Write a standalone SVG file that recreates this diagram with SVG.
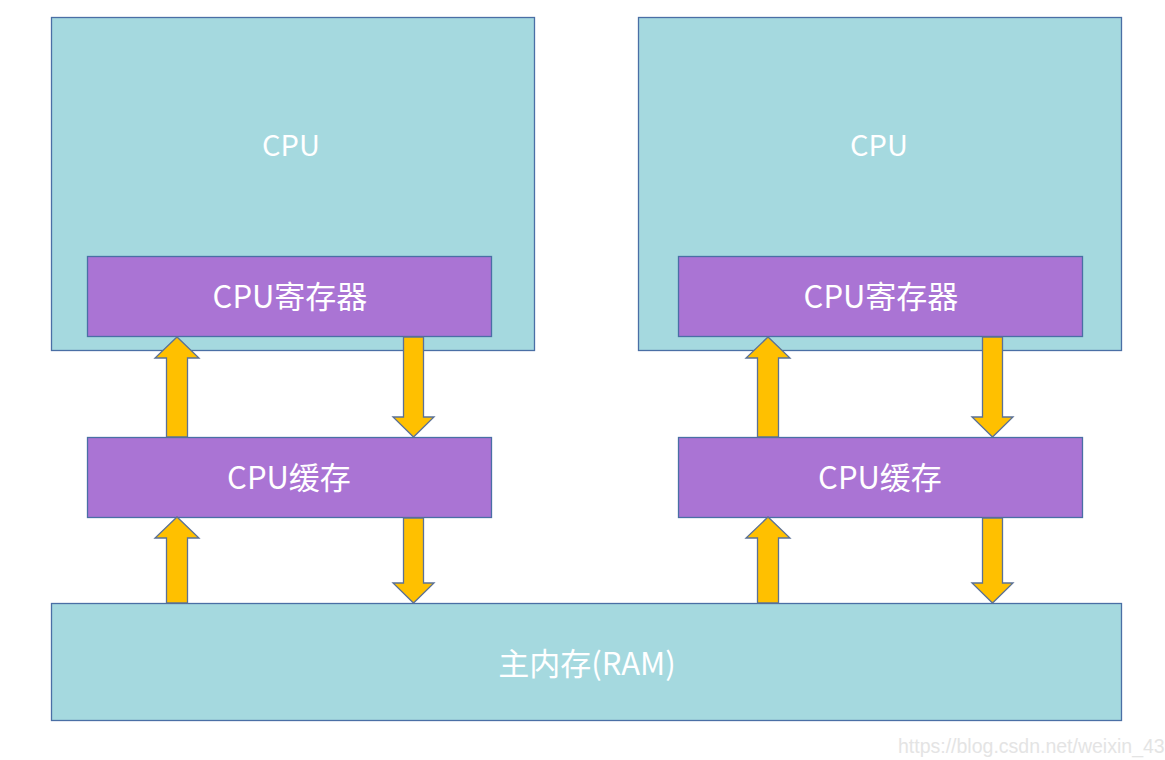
<svg xmlns="http://www.w3.org/2000/svg" width="1165" height="760" viewBox="0 0 1165 760">
<style>
.box{fill:#A5D9DF;stroke:#4A6FA5;stroke-width:1.3}
.reg{fill:#AA74D4;stroke:#4A6FA5;stroke-width:1.3}
.lbl{fill:#FFFFFF;font-family:"Noto Sans CJK SC","Noto Sans",sans-serif;font-size:31px;text-anchor:middle}
.cpu{font-size:29px}
.arr{fill:#FFC000;stroke:#5B7196;stroke-width:1.3;stroke-linejoin:miter}
.wm{fill:#E4E4E4;font-family:"Liberation Sans",Arial,sans-serif;font-size:19.5px}
</style>
<rect width="1165" height="760" fill="#FFFFFF"/>
<g id="cpu-left"><rect class="box" x="51.5" y="17.5" width="483" height="333"/><text class="lbl cpu" x="291" y="156">CPU</text></g>
<g id="cpu-right"><rect class="box" x="638.5" y="17.5" width="483" height="333"/><text class="lbl cpu" x="879" y="156">CPU</text></g>
<g id="reg-left"><rect class="reg" x="87.5" y="256.5" width="404" height="80"/><text class="lbl" x="290" y="308">CPU寄存器</text></g>
<g id="reg-right"><rect class="reg" x="678.5" y="256.5" width="404" height="80"/><text class="lbl" x="881" y="308">CPU寄存器</text></g>
<g id="cache-left"><rect class="reg" x="87.5" y="437.5" width="404" height="80"/><text class="lbl" x="289" y="489">CPU缓存</text></g>
<g id="cache-right"><rect class="reg" x="678.5" y="437.5" width="404" height="80"/><text class="lbl" x="880" y="489">CPU缓存</text></g>
<g id="ram"><rect class="box" x="51.5" y="603.5" width="1070" height="117"/><text class="lbl" x="587" y="675">主内存(RAM)</text></g>
<g id="connectors">
<path class="arr" d="M166.5 437 V358 H155 L177 337 L199 358 H187.5 V437 Z"/>
<path class="arr" d="M403.5 337 V417 H393 L413.5 437 L434 417 H423.5 V337 Z"/>
<path class="arr" d="M166.5 603 V538 H155 L177 517 L199 538 H187.5 V603 Z"/>
<path class="arr" d="M403.5 518 V583 H393 L413.5 603 L434 583 H423.5 V518 Z"/>
<path class="arr" d="M757.5 437 V358 H746 L768 337 L790 358 H778.5 V437 Z"/>
<path class="arr" d="M982.5 337 V417 H972 L992.5 437 L1013 417 H1002.5 V337 Z"/>
<path class="arr" d="M757.5 603 V538 H746 L768 517 L790 538 H778.5 V603 Z"/>
<path class="arr" d="M982.5 518 V583 H972 L992.5 603 L1013 583 H1002.5 V518 Z"/>
</g>
<text class="wm" x="898" y="753">https://blog.csdn.net/weixin_43</text>
</svg>
